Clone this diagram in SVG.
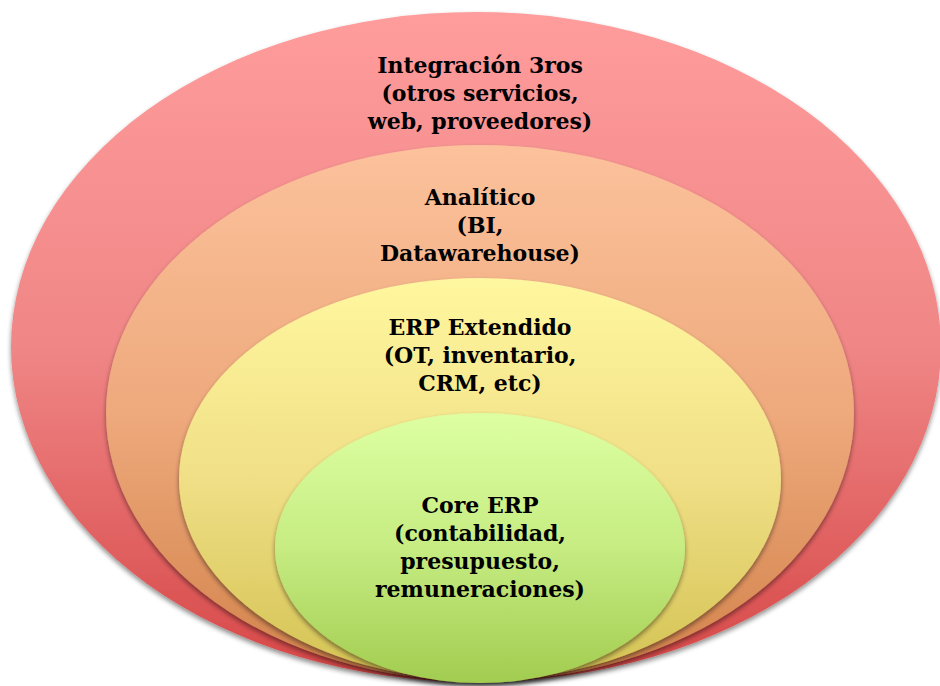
<svg xmlns="http://www.w3.org/2000/svg" width="940" height="686" viewBox="0 0 940 686">
<defs>
<linearGradient id="gRed" x1="0" y1="0" x2="0" y2="1"><stop offset="0" stop-color="#ff9c9c"/><stop offset="0.5" stop-color="#f08686"/><stop offset="1" stop-color="#d64646"/></linearGradient>
<linearGradient id="gOrange" x1="0" y1="0" x2="0" y2="1"><stop offset="0" stop-color="#fcc29c"/><stop offset="0.5" stop-color="#eea97c"/><stop offset="1" stop-color="#d2824a"/></linearGradient>
<linearGradient id="gYellow" x1="0" y1="0" x2="0" y2="1"><stop offset="0" stop-color="#fff79f"/><stop offset="0.5" stop-color="#f0df86"/><stop offset="1" stop-color="#d3c252"/></linearGradient>
<linearGradient id="gGreen" x1="0" y1="0" x2="0" y2="1"><stop offset="0" stop-color="#ddffa2"/><stop offset="0.5" stop-color="#c6ec82"/><stop offset="1" stop-color="#a2cc50"/></linearGradient>
<filter id="sh" x="-10%" y="-10%" width="120%" height="125%"><feGaussianBlur in="SourceAlpha" stdDeviation="2.5"/><feOffset dx="0" dy="3" result="b"/><feComponentTransfer><feFuncA type="linear" slope="0.45"/></feComponentTransfer><feMerge><feMergeNode/><feMergeNode in="SourceGraphic"/></feMerge></filter>
</defs>
<style>
text{font-family:"DejaVu Serif","Liberation Serif",serif;font-weight:bold;font-size:22px;fill:#000;text-anchor:middle}
</style>
<rect width="940" height="686" fill="#ffffff"/>
<g id="integracion">
<ellipse cx="476" cy="347" rx="465" ry="335" fill="url(#gRed)" filter="url(#sh)"/>
<text x="480" y="73">Integración 3ros</text>
<text x="480" y="101">(otros servicios,</text>
<text x="480" y="129">web, proveedores)</text>
</g>
<g id="analitico">
<ellipse cx="480" cy="413" rx="374" ry="268" fill="url(#gOrange)" filter="url(#sh)"/>
<text x="480" y="205">Analítico</text>
<text x="480" y="233">(BI,</text>
<text x="480" y="261">Datawarehouse)</text>
</g>
<g id="erp-extendido">
<ellipse cx="480" cy="479" rx="301" ry="201" fill="url(#gYellow)" filter="url(#sh)"/>
<text x="480" y="335">ERP Extendido</text>
<text x="480" y="363">(OT, inventario,</text>
<text x="480" y="391">CRM, etc)</text>
</g>
<g id="core-erp">
<ellipse cx="480" cy="548" rx="205" ry="135" fill="url(#gGreen)" filter="url(#sh)"/>
<text x="480" y="513">Core ERP</text>
<text x="480" y="541">(contabilidad,</text>
<text x="480" y="569">presupuesto,</text>
<text x="480" y="597">remuneraciones)</text>
</g>
<g id="connectors"/>
</svg>
